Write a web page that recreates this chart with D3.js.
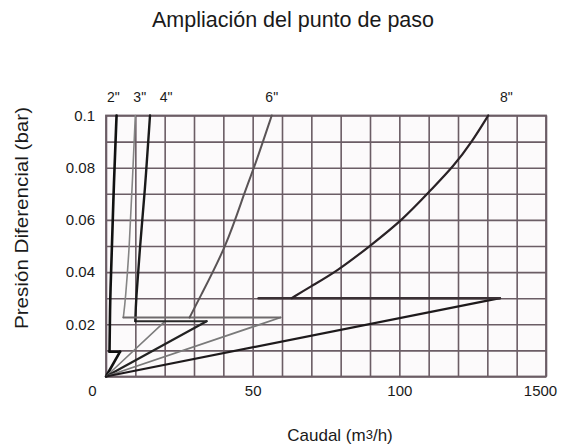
<!DOCTYPE html>
<html>
<head>
<meta charset="utf-8">
<script src="https://cdn.jsdelivr.net/npm/d3@7"></script>
<style>
  html, body { margin: 0; padding: 0; background: #fff; }
  svg { display: block; font-family: "Liberation Sans", Arial, Helvetica, sans-serif; }
</style>
</head>
<body>
<svg id="chart" width="568" height="444"></svg>
<script>
// Valve sizes drawn on the chart
const sizes = ['2"', '3"', '4"', '6"', '8"'];

// Low-flow straight segment: from the origin to this point (m3/h, bar)
const lowEnd = [[4.8, 0.0095], [20, 0.021], [34.3, 0.0212], [59.5, 0.0226], [134.3, 0.030]];

// Horizontal transition step: [from flow, to flow, pressure]
const steps = [[4.8, 1.2, 0.0095], [null, null, null], [34.3, 10, 0.0212], [59.5, 5.9, 0.0226], [134.3, 52, 0.030]];

// Upper curves after the transition point (flow m3/h, pressure bar)
const high2 = [[1.2, 0.0095], [1.4, 0.03], [1.9, 0.045], [2.7, 0.075], [3.6, 0.1]];
const high3 = [[5.9, 0.0226], [6.6, 0.029], [8.0, 0.05], [9.0, 0.075], [10.0, 0.1]];
const high4 = [[10.0, 0.0212], [10.2, 0.029], [11.6, 0.05], [13.2, 0.07], [15.0, 0.1]];
const high6 = [[28.5, 0.0226], [31.5, 0.0293], [41.2, 0.0502], [47.4, 0.0713], [50.8, 0.0808], [56.5, 0.1]];
const high8 = [[63.3, 0.030], [69.6, 0.0344], [78.6, 0.0402], [90, 0.05], [101.4, 0.0603], [110.5, 0.0712], [118.5, 0.0805], [124.8, 0.09], [130.3, 0.1]];
const highCurves = [high2, high3, high4, high6, high8];

// Label position of each size above the plot (flow value)
const sizeLabelAt = [2.5, 11.5, 20.5, 56.5, 136.5];

// Axis tick values and their printed labels
const xTicks = [0, 50, 100, 150];
const xTickLabels = ["0", "50", "100", "1500"];
const yTicks = [0.02, 0.04, 0.06, 0.08, 0.1];
const yTickLabels = ["0.02", "0.04", "0.06", "0.08", "0.1"];

const svg = d3.select("#chart");
const plotLeft = 106, plotRight = 546, plotTop = 115.5, plotBottom = 376.5;
const W = plotRight - plotLeft, H = plotBottom - plotTop;

const x = d3.scaleLinear().domain([0, 150]).range([plotLeft, plotRight]);
const y = d3.scaleLinear().domain([0, 0.1]).range([plotBottom, plotTop]);

const gridColor = "#6b5d65";
const inkColor = "#1a1a1a";

// Title
svg.append("text")
  .attr("x", 293).attr("y", 27)
  .attr("text-anchor", "middle")
  .attr("font-size", 21.5)
  .attr("fill", inkColor)
  .text("Ampliación del punto de paso");

// Plot background
svg.append("rect")
  .attr("x", plotLeft).attr("y", plotTop).attr("width", W).attr("height", H)
  .attr("fill", "#fcfafb");

// Grid: vertical lines every 10 m3/h
const gx = svg.append("g")
  .attr("transform", `translate(0,${plotBottom})`)
  .call(d3.axisBottom(x).tickValues(d3.range(0, 151, 10)).tickSize(-H).tickFormat(""));
gx.select(".domain").remove();
gx.selectAll("line").attr("stroke", gridColor).attr("stroke-width", 1.6);

// Grid: horizontal lines every 0.01 bar
const gy = svg.append("g")
  .attr("transform", `translate(${plotLeft},0)`)
  .call(d3.axisLeft(y).tickValues(d3.range(0, 11).map(i => i / 100)).tickSize(-W).tickFormat(""));
gy.select(".domain").remove();
gy.selectAll("line").attr("stroke", gridColor).attr("stroke-width", 1.6);

// Frame
svg.append("rect")
  .attr("x", plotLeft).attr("y", plotTop).attr("width", W).attr("height", H)
  .attr("fill", "none").attr("stroke", gridColor).attr("stroke-width", 1.8);

// X tick labels
const ax = svg.append("g")
  .attr("transform", `translate(0,${plotBottom})`)
  .call(d3.axisBottom(x).tickValues(xTicks).tickSize(0).tickPadding(9)
    .tickFormat((d, i) => xTickLabels[i]));
ax.select(".domain").remove();
ax.selectAll("text")
  .attr("font-size", 15).attr("fill", inkColor)
  .attr("font-family", "Liberation Sans, Arial, sans-serif")
  .attr("dx", (d, i) => i === 0 ? -14 : (i === xTicks.length - 1 ? -6 : 0));

// Y tick labels
const ay = svg.append("g")
  .attr("transform", `translate(${plotLeft},0)`)
  .call(d3.axisLeft(y).tickValues(yTicks).tickSize(0).tickPadding(11)
    .tickFormat((d, i) => yTickLabels[i]));
ay.select(".domain").remove();
ay.selectAll("text")
  .attr("font-size", 15).attr("fill", inkColor)
  .attr("font-family", "Liberation Sans, Arial, sans-serif");

// Axis titles
svg.append("text")
  .attr("transform", "translate(28,218) rotate(-90)")
  .attr("text-anchor", "middle")
  .attr("font-size", 17.5)
  .attr("textLength", 222)
  .attr("lengthAdjust", "spacingAndGlyphs")
  .attr("fill", inkColor)
  .text("Presión Diferencial (bar)");

const xt = svg.append("text")
  .attr("x", 340).attr("y", 441)
  .attr("text-anchor", "middle")
  .attr("font-size", 17)
  .attr("fill", inkColor);
xt.append("tspan").text("Caudal (m");
xt.append("tspan").attr("font-size", 13).attr("dy", -2).text("3");
xt.append("tspan").attr("dy", 2).text("/h)");

// Line styles per size
const lowColor = ["#111", "#7d7d7d", "#222", "#7a7a7a", "#1e1a1c"];
const stepColor = ["#111", null, "#2a2a2a", "#6e6a6c", "#3a3035"];
const highColor = ["#111", "#858585", "#1a1a1a", "#5a5456", "#2a2226"];
const lowWidth = [2.6, 1.6, 2.2, 1.8, 2.2];
const stepWidth = [2.6, 0, 2.0, 1.8, 2.4];
const highWidth = [2.6, 1.6, 2.4, 2.0, 2.2];

const line = d3.line().x(d => x(d[0])).y(d => y(d[1]));
const smooth = d3.line().x(d => x(d[0])).y(d => y(d[1])).curve(d3.curveBasis);

const marks = svg.append("g").attr("fill", "none").attr("stroke-linecap", "round");

sizes.forEach((s, i) => {
  // straight low-flow segment from the origin
  marks.append("path")
    .attr("d", line([[0, 0], lowEnd[i]]))
    .attr("stroke", lowColor[i]).attr("stroke-width", lowWidth[i]);
  // transition step
  const st = steps[i];
  if (st[0] !== null) {
    marks.append("path")
      .attr("d", line([[st[0], st[2]], [st[1], st[2]]]))
      .attr("stroke", stepColor[i]).attr("stroke-width", stepWidth[i]);
  }
  // upper curve
  marks.append("path")
    .attr("d", smooth(highCurves[i]))
    .attr("stroke", highColor[i]).attr("stroke-width", highWidth[i]);
});

// Size labels above the plot
svg.append("g").selectAll("text")
  .data(sizes)
  .join("text")
  .attr("x", (d, i) => x(sizeLabelAt[i]))
  .attr("y", 102)
  .attr("text-anchor", "middle")
  .attr("font-size", 14)
  .attr("fill", inkColor)
  .text(d => d);
</script>
</body>
</html>
